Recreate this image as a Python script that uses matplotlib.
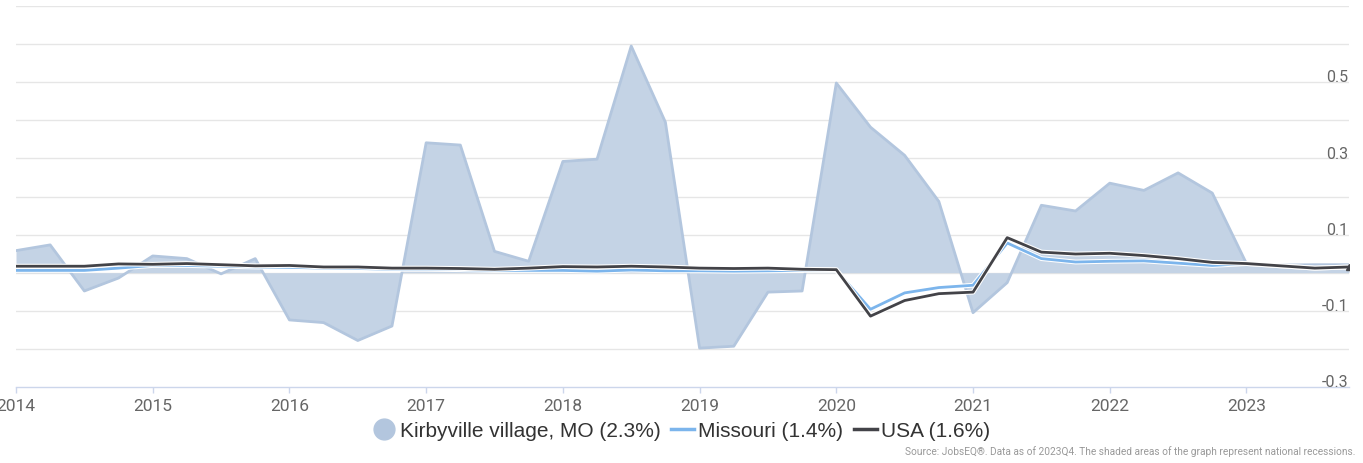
import matplotlib
matplotlib.use("Agg")
import matplotlib.pyplot as plt
import matplotlib.patheffects as pe
from matplotlib.lines import Line2D
import numpy as np

plt.rcParams['font.family'] = ['Roboto', 'DejaVu Sans']

# quarterly data, 2014Q1 .. 2023Q4
quarters = 2014 + np.arange(40) * 0.25

kirbyville = [0.058, 0.073, -0.048, -0.014, 0.044, 0.037, -0.003, 0.037,
              -0.124, -0.131, -0.178, -0.140, 0.341, 0.335, 0.056, 0.030,
              0.292, 0.298, 0.595, 0.395, -0.198, -0.193, -0.051, -0.048,
              0.498, 0.382, 0.308, 0.187, -0.105, -0.026, 0.177, 0.162,
              0.235, 0.216, 0.262, 0.209, 0.024, 0.020, 0.021, 0.021]

missouri = [0.006, 0.006, 0.006, 0.012, 0.019, 0.019, 0.017, 0.015,
            0.014, 0.012, 0.011, 0.009, 0.009, 0.008, 0.006, 0.006,
            0.006, 0.004, 0.007, 0.005, 0.005, 0.004, 0.005, 0.006,
            0.006, -0.096, -0.053, -0.039, -0.033, 0.078, 0.037, 0.028,
            0.030, 0.031, 0.025, 0.019, 0.024, 0.018, 0.012, 0.015]

usa = [0.017, 0.017, 0.017, 0.023, 0.022, 0.024, 0.021, 0.018,
       0.019, 0.015, 0.015, 0.012, 0.012, 0.011, 0.009, 0.012,
       0.016, 0.015, 0.017, 0.015, 0.012, 0.011, 0.012, 0.009,
       0.008, -0.114, -0.073, -0.055, -0.051, 0.092, 0.054, 0.049,
       0.051, 0.045, 0.037, 0.027, 0.024, 0.018, 0.012, 0.015]

year_ticks = list(range(2014, 2024))
y_labels = [0.5, 0.3, 0.1, -0.1, -0.3]

fig = plt.figure(figsize=(13.63, 4.64), dpi=100)
ax = fig.add_axes([16 / 1363, 1 - 388 / 464, (1349 - 16) / 1363, (388 - 7) / 464])

ax.set_xlim(2014, 2023.75)
ax.set_ylim(-0.3, 0.7)

# grid
for g in np.arange(-0.2, 0.71, 0.1):
    ax.axhline(g, color='#e6e6e6', lw=1, zorder=0)

halo = [pe.Stroke(linewidth=3.5, foreground='white'), pe.Normal()]

ax.fill_between(quarters, kirbyville, 0, color='#c4d3e5', lw=0, zorder=1)
ax.plot(quarters, kirbyville, color='#b3c6de', lw=2, zorder=2)
ax.plot(quarters, missouri, color='#7cb5ec', lw=2, zorder=3, path_effects=halo)
ax.plot(quarters, usa, color='#434348', lw=2, zorder=4, path_effects=halo)
ax.plot(quarters[-1], usa[-1], marker='^', color='#434348', ms=4, zorder=5)

for s in ['top', 'left', 'right']:
    ax.spines[s].set_visible(False)
ax.spines['bottom'].set_color('#ccd6eb')
ax.spines['bottom'].set_linewidth(1)

ax.set_xticks(year_ticks)
ax.set_xticklabels([str(y) for y in year_ticks])
ax.tick_params(axis='x', colors='#ccd6eb', length=4, width=1, labelcolor='#666666',
               labelsize=12.5, pad=4)
ax.set_yticks([])

for v in y_labels:
    ax.text(2023.745, v + 0.002, f"{v:g}", ha='right', va='baseline', color='#666666',
            fontsize=11.5, zorder=6)

handles = [
    Line2D([], [], marker='o', ls='none', ms=15, color='#b3c6de'),
    Line2D([], [], color='#7cb5ec', lw=2.5),
    Line2D([], [], color='#434348', lw=2.5),
]
labels = ['Kirbyville village, MO (2.3%)', 'Missouri (1.4%)', 'USA (1.6%)']
fig.legend(handles, labels, loc='center', bbox_to_anchor=(0.5, 1 - 432 / 464), ncol=3,
           frameon=False, prop={'family': ['Liberation Sans', 'DejaVu Sans'], 'size': 15},
           handlelength=1.1, handletextpad=0.2, columnspacing=0.5, labelcolor='#333333')

fig.text(1355 / 1363, 1 - 452 / 464,
         'Source: JobsEQ®. Data as of 2023Q4. The shaded areas of the graph represent national recessions.',
         ha='right', va='center', fontsize=7.3, color='#999999')

fig.savefig('out.png', dpi=100)
